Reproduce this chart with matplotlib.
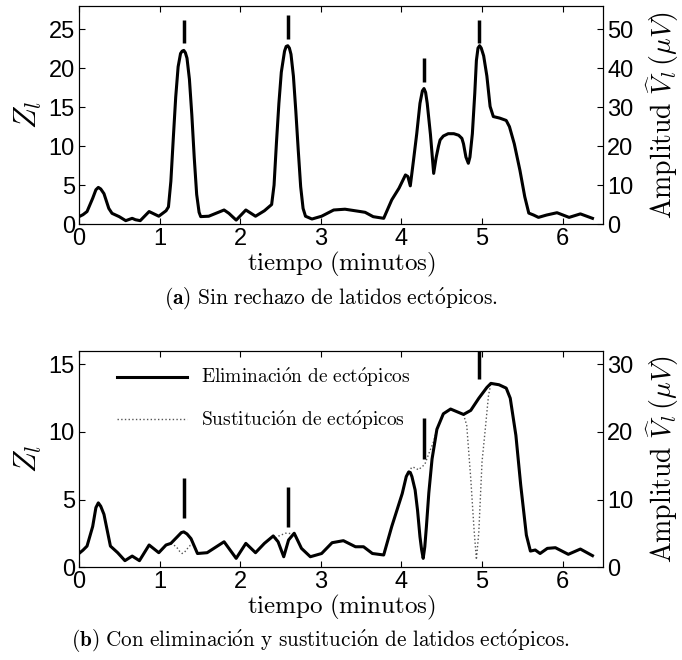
import matplotlib
matplotlib.use("Agg")
import matplotlib.pyplot as plt

plt.rcParams["mathtext.fontset"] = "cm"
plt.rcParams["font.family"] = ["Liberation Sans", "DejaVu Sans"]

# (a) Z_l without ectopic rejection
t_a = [0.00, 0.05, 0.10, 0.17, 0.21, 0.24, 0.27, 0.31, 0.37, 0.41, 0.50, 0.58,
       0.66, 0.70, 0.76, 0.87, 0.99, 1.08, 1.11, 1.14, 1.17, 1.20, 1.23, 1.26,
       1.28, 1.30, 1.32, 1.34, 1.37, 1.40, 1.43, 1.46, 1.49, 1.51, 1.61, 1.80,
       1.86, 1.95, 2.07, 2.19, 2.30, 2.39, 2.42, 2.45, 2.48, 2.51, 2.55, 2.57,
       2.59, 2.61, 2.63, 2.66, 2.69, 2.72, 2.75, 2.78, 2.81, 2.89, 3.01, 3.16,
       3.30, 3.49, 3.55, 3.65, 3.78, 3.88, 3.97, 4.05, 4.08, 4.11, 4.15, 4.19,
       4.23, 4.26, 4.28, 4.30, 4.32, 4.36, 4.40, 4.43, 4.46, 4.48, 4.52, 4.58,
       4.65, 4.71, 4.75, 4.77, 4.80, 4.83, 4.85, 4.88, 4.91, 4.93, 4.95, 4.97,
       4.99, 5.02, 5.06, 5.10, 5.14, 5.22, 5.30, 5.34, 5.40, 5.47, 5.53, 5.58,
       5.64, 5.70, 5.80, 5.93, 6.08, 6.22, 6.37]
z_a = [0.94, 1.20, 1.60, 3.30, 4.40, 4.70, 4.50, 3.90, 2.00, 1.37, 0.94, 0.43,
       0.73, 0.55, 0.43, 1.60, 1.00, 1.70, 2.20, 5.50, 11.0, 16.3, 20.2, 21.9,
       22.2, 22.3, 22.0, 21.3, 18.6, 14.0, 8.50, 3.80, 1.50, 0.95, 1.00, 1.80,
       1.37, 0.50, 1.80, 1.00, 1.70, 2.50, 5.00, 10.5, 15.5, 19.5, 22.2, 22.8,
       22.9, 22.6, 21.8, 19.0, 14.5, 9.50, 4.80, 2.00, 1.00, 0.64, 1.00, 1.80,
       1.90, 1.60, 1.50, 0.94, 0.73, 3.10, 4.60, 6.30, 6.10, 4.90, 8.20, 11.6,
       15.5, 17.1, 17.4, 16.9, 15.5, 11.5, 6.50, 8.50, 10.0, 10.8, 11.3, 11.6,
       11.6, 11.4, 11.0, 10.3, 8.60, 7.80, 8.60, 11.6, 16.8, 21.0, 22.6, 22.9,
       22.6, 21.6, 19.0, 15.1, 13.8, 13.6, 13.3, 12.5, 10.3, 6.90, 3.50, 1.40,
       1.15, 0.85, 1.15, 1.45, 0.85, 1.30, 0.73]

# (b) Z_l with ectopic beats removed
t_b = [0.00, 0.05, 0.10, 0.17, 0.21, 0.24, 0.27, 0.31, 0.39, 0.48, 0.57, 0.66,
       0.75, 0.87, 0.99, 1.08, 1.14, 1.22, 1.27, 1.30, 1.34, 1.39, 1.47, 1.59,
       1.80, 1.95, 2.07, 2.19, 2.30, 2.41, 2.47, 2.54, 2.60, 2.67, 2.76, 2.87,
       3.01, 3.14, 3.28, 3.43, 3.53, 3.64, 3.78, 3.88, 4.01, 4.06, 4.09, 4.11,
       4.13, 4.17, 4.20, 4.23, 4.25, 4.27, 4.29, 4.31, 4.34, 4.38, 4.44, 4.52,
       4.61, 4.69, 4.77, 4.86, 4.96, 5.06, 5.11, 5.21, 5.30, 5.35, 5.42, 5.48,
       5.55, 5.60, 5.66, 5.72, 5.81, 5.91, 6.07, 6.22, 6.37]
z_b = [1.00, 1.25, 1.55, 3.00, 4.40, 4.75, 4.50, 3.90, 1.55, 1.06, 0.47, 0.81,
       0.47, 1.63, 1.06, 1.63, 1.75, 2.24, 2.55, 2.60, 2.45, 2.10, 1.00, 1.06,
       1.87, 0.64, 1.75, 1.06, 1.75, 2.30, 1.87, 0.76, 2.00, 2.50, 1.38, 0.76,
       1.00, 1.80, 1.95, 1.50, 1.50, 1.00, 0.89, 3.00, 5.44, 6.70, 7.04, 7.00,
       6.70, 5.70, 4.20, 2.24, 1.30, 0.64, 1.50, 3.00, 5.50, 8.00, 10.2, 11.35,
       11.7, 11.5, 11.3, 11.6, 12.5, 13.3, 13.6, 13.5, 13.25, 12.5, 9.75, 6.06,
       2.36, 1.18, 1.26, 1.00, 1.38, 1.43, 0.94, 1.33, 0.84]

# (b) stretches where the ectopic beats were substituted instead
sub_t = [
    [1.14, 1.18, 1.22, 1.25, 1.28, 1.31, 1.35, 1.38, 1.42],
    [2.44, 2.48, 2.52, 2.56, 2.60, 2.64],
    [4.09, 4.13, 4.17, 4.21, 4.25, 4.29, 4.34, 4.40, 4.44],
    [4.77, 4.81, 4.86, 4.90, 4.93, 4.96, 5.00, 5.04, 5.08, 5.11],
]
sub_z = [
    [1.75, 1.62, 1.40, 1.15, 1.00, 1.10, 1.40, 1.60, 1.65],
    [2.10, 2.30, 2.40, 2.50, 2.50, 2.45],
    [7.04, 7.40, 7.35, 7.20, 7.40, 7.60, 8.40, 9.30, 10.2],
    [11.3, 10.5, 6.55, 2.86, 0.55, 2.60, 7.80, 10.2, 12.7, 13.6],
]

# ectopic beat marks: time, bottom of the tick
ect_t = [1.30, 2.59, 4.28, 4.96]
ect_a = [23.2, 23.8, 18.3, 23.2]
ect_b = [3.60, 2.93, 8.00, 13.94]
mark_len = 3.0


def cm(s):
    return r"$\mathrm{" + s.replace(" ", r"\ ").replace("ó", r"\acute{o}") + "}$"


def style_axes(ax, ymax, yticks, right_ticks):
    ax.set_xlim(0, 6.5)
    ax.set_ylim(0, ymax)
    ax.set_xticks(range(7))
    ax.set_yticks(yticks)
    ax.tick_params(direction="in", length=4, width=0.8, labelsize=17,
                   top=True, right=False, pad=3)
    ax.set_xlabel(cm("tiempo (minutos)"), fontsize=18, labelpad=0)
    ax.set_ylabel(r"$Z_l$", fontsize=22, labelpad=3)
    ax2 = ax.twinx()
    ax2.set_ylim(0, 2 * ymax)
    ax2.set_yticks(right_ticks)
    ax2.tick_params(direction="in", length=4, width=0.8, labelsize=17, pad=3)
    ax2.set_ylabel(r"$\mathrm{Amplitud}\ \widehat{V}_l\,(\mu V)$",
                   fontsize=20, labelpad=8)
    for a in (ax, ax2):
        for sp in a.spines.values():
            sp.set_linewidth(0.8)
    return ax2


fig = plt.figure(figsize=(6.82, 6.60), dpi=100)

ax = fig.add_axes([0.1158, 0.6606, 0.7683, 0.3303])
ax.plot(t_a, z_a, color="black", lw=2.2)
ax.vlines(ect_t, ect_a, [v + mark_len for v in ect_a], color="black", lw=2.5)
style_axes(ax, 28, range(0, 30, 5), range(0, 60, 10))
fig.text(0.485, 0.548, r"$\mathbf{(a)}\ $" + cm("Sin rechazo de latidos ectópicos."),
         ha="center", va="center", fontsize=15.5)

bx = fig.add_axes([0.1158, 0.1409, 0.7683, 0.3273])
for i, (st, sz) in enumerate(zip(sub_t, sub_z)):
    bx.plot(st, sz, color="#555555", lw=1, ls=":",
            label=cm("Sustitución de ectópicos") if i == 0 else None)
bx.plot(t_b, z_b, color="black", lw=2.2, label=cm("Eliminación de ectópicos"))
bx.vlines(ect_t, ect_b, [v + mark_len for v in ect_b], color="black", lw=2.5)
style_axes(bx, 16, range(0, 20, 5), range(0, 40, 10))
h, l = bx.get_legend_handles_labels()
bx.legend(h[::-1], l[::-1], loc="upper left", frameon=False, fontsize=14,
          handlelength=3.6, handletextpad=0.75, labelspacing=1.0,
          borderpad=0, borderaxespad=0, bbox_to_anchor=(0.072, 0.93))
fig.text(0.47, 0.030, r"$\mathbf{(b)}\ $" + cm("Con eliminación y sustitución de latidos ectópicos."),
         ha="center", va="center", fontsize=15.3)

fig.savefig("out.png", dpi=100)
